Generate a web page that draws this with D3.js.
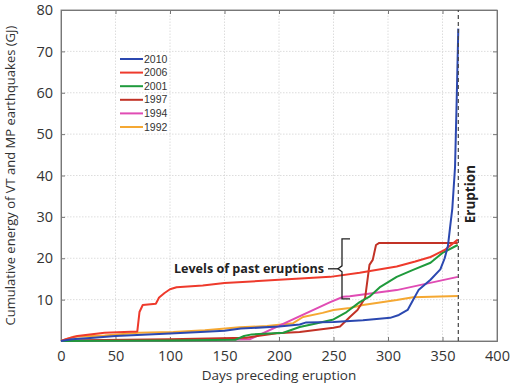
<!DOCTYPE html>
<html><head><meta charset="utf-8">
<script src="https://cdn.jsdelivr.net/npm/d3@7"></script>
<style>body{margin:0;background:#fff}svg{display:block}</style>
</head><body>
<script>
// Data: [day, cumulative energy GJ]
const years = ["2010","2006","2001","1997","1994","1992"];
const colors = ["#2b48b0","#ee3a2c","#1f9a3c","#c23226","#e04cb4","#f5a832"];
const s2010 = [[0,0],[10,0.4],[30,0.8],[50,1.2],[100,1.8],[128,2.2],[150,2.5],[165,3.0],[200,3.5],[219,4.0],[225,4.5],[250,4.6],[277,5.0],[302,5.6],[310,6.3],[318,7.5],[323,9.9],[328,12.3],[339,14.8],[348,17.3],[352,20],[355,23],[357,27.6],[359,32],[360,36],[361.5,42],[363,58],[364.5,75.5]];
const s2006 = [[0,0],[5,0.5],[15,1.2],[40,2.0],[70,2.3],[72,7],[75,8.7],[87,9.0],[90,10.5],[95,11.6],[100,12.5],[106,13],[130,13.4],[150,14],[200,14.8],[247,15.5],[274,16.5],[308,18],[325,19.2],[339,20.3],[352,22],[364,24.5]];
const s2001 = [[0,0],[100,0.1],[160,0.3],[168,1.2],[175,1.6],[204,2.0],[219,3.4],[235,4.3],[250,5.2],[262,7.0],[274,9.4],[283,10.7],[293,13.1],[308,15.5],[323,17.2],[339,18.9],[350,21.3],[364,23.2]];
const s1997 = [[0,0],[20,0.2],[100,0.4],[170,0.8],[198,1.9],[219,2.2],[250,3.2],[256,3.5],[265,5.8],[272,7.5],[279,10.4],[283,18.4],[286,19.6],[289,23.2],[292,23.7],[364,23.7]];
const s1994 = [[0,0],[50,0.1],[173,0.4],[247,9.4],[259,10.7],[265,10.8],[308,12.3],[364,15.5]];
const s1992 = [[0,0],[11,1.0],[40,1.3],[71,2.0],[103,2.2],[132,2.6],[164,3.3],[189,3.6],[213,4.3],[222,5.8],[240,6.8],[250,7.5],[265,8.0],[277,8.7],[308,9.9],[323,10.6],[364,10.9]];
const series = [s2010,s2006,s2001,s1997,s1994,s1992];
const xTicks = [0,50,100,150,200,250,300,350,400];
const yTicks = [10,20,30,40,50,60,70,80];
const eruptionDay = 364.5;
const bracketRange = [10.2, 24.7];

const W=532,H=387;
const m={l:61,r:35,t:10,b:46};
const svg=d3.select("body").append("svg").attr("width",W).attr("height",H);
const x=d3.scaleLinear().domain([0,400]).range([m.l,W-m.r]);
const y=d3.scaleLinear().domain([0,80]).range([H-m.b,m.t]);
const font="'Open Sans', Lato, sans-serif";

// grid
const g=svg.append("g");
g.selectAll(".gx").data(xTicks.slice(1,-1)).join("line")
 .attr("x1",d=>x(d)).attr("x2",d=>x(d)).attr("y1",y(0)).attr("y2",y(80))
 .attr("stroke","#d4d4d4").attr("stroke-dasharray","1.5,1.5").attr("stroke-width",0.8);
g.selectAll(".gy").data(yTicks.slice(0,-1)).join("line")
 .attr("y1",d=>y(d)).attr("y2",d=>y(d)).attr("x1",x(0)).attr("x2",x(400))
 .attr("stroke","#d4d4d4").attr("stroke-dasharray","1.5,1.5").attr("stroke-width",0.8);

// frame
svg.append("rect").attr("x",x(0)).attr("y",y(80)).attr("width",x(400)-x(0)).attr("height",y(0)-y(80))
 .attr("fill","none").attr("stroke","#8a8a8a").attr("stroke-width",1);

// axes with inward ticks
svg.append("g").attr("transform",`translate(0,${y(0)})`)
 .call(d3.axisBottom(x).tickValues(xTicks).tickSize(-4).tickPadding(10));
svg.append("g").attr("transform",`translate(${x(0)},0)`)
 .call(d3.axisLeft(y).tickValues(yTicks).tickSize(-4).tickPadding(8));
svg.append("g").attr("transform",`translate(${x(400)},0)`)
 .call(d3.axisRight(y).tickValues(yTicks).tickSize(-4).tickFormat(""));
svg.append("g").attr("transform",`translate(0,${y(80)})`)
 .call(d3.axisTop(x).tickValues(xTicks).tickSize(-4).tickFormat(""));
svg.selectAll(".domain").attr("stroke","#777");
svg.selectAll(".tick line").attr("stroke","#777");
svg.selectAll(".tick text").attr("font-family",font).attr("font-size",14.5).attr("fill","#333");

// lines
const line=d3.line().x(d=>x(d[0])).y(d=>y(d[1]));
const order=[5,4,3,2,1,0];
order.forEach(i=>{
 svg.append("path").datum(series[i]).attr("d",line).attr("fill","none")
  .attr("stroke",colors[i]).attr("stroke-width",2).attr("stroke-linejoin","round");
});

// eruption line
svg.append("line").attr("x1",x(eruptionDay)).attr("x2",x(eruptionDay)).attr("y1",y(0)).attr("y2",y(80))
 .attr("stroke","#444").attr("stroke-width",1.2).attr("stroke-dasharray","4,3");
svg.append("text").attr("transform",`translate(${x(eruptionDay)+17},${y(35.5)}) rotate(-90)`)
 .attr("text-anchor","middle").attr("font-family",font).attr("font-weight","bold").attr("font-size",13.5)
 .attr("fill","#222").text("Eruption");

// bracket
const bx=342, yt=y(bracketRange[1]), yb=y(bracketRange[0]), ym=(yt+yb)/2;
svg.append("path").attr("d",`M${bx+8},${yt} L${bx},${yt} L${bx},${ym-3} L${bx-4},${ym} L${bx},${ym+3} L${bx},${yb} L${bx+8},${yb}`)
 .attr("fill","none").attr("stroke","#222").attr("stroke-width",1.3);
svg.append("line").attr("x1",328).attr("x2",bx-4).attr("y1",ym).attr("y2",ym).attr("stroke","#222").attr("stroke-width",1.3);
svg.append("text").attr("x",324).attr("y",ym+4.5).attr("text-anchor","end").attr("font-family",font)
 .attr("font-weight","bold").attr("font-size",12.6).attr("fill","#222").text("Levels of past eruptions");

// legend
const lg=svg.append("g");
years.forEach((yr,i)=>{
 const yy=59+i*13.6;
 lg.append("line").attr("x1",120).attr("x2",143).attr("y1",yy).attr("y2",yy).attr("stroke",colors[i]).attr("stroke-width",2);
 lg.append("text").attr("x",144).attr("y",yy+3.5).attr("font-family","'Liberation Sans', Arial, sans-serif")
  .attr("font-size",10.5).attr("fill","#333").text(yr);
});

// axis labels
svg.append("text").attr("x",(x(0)+x(400))/2).attr("y",380).attr("text-anchor","middle")
 .attr("font-family",font).attr("font-size",13.5).attr("fill","#333").text("Days preceding eruption");
svg.append("text").attr("transform",`translate(15,${(y(0)+y(80))/2}) rotate(-90)`).attr("text-anchor","middle")
 .attr("font-family",font).attr("font-size",13).attr("fill","#333").text("Cumulative energy of VT and MP earthquakes (GJ)");
</script>
</body></html>
